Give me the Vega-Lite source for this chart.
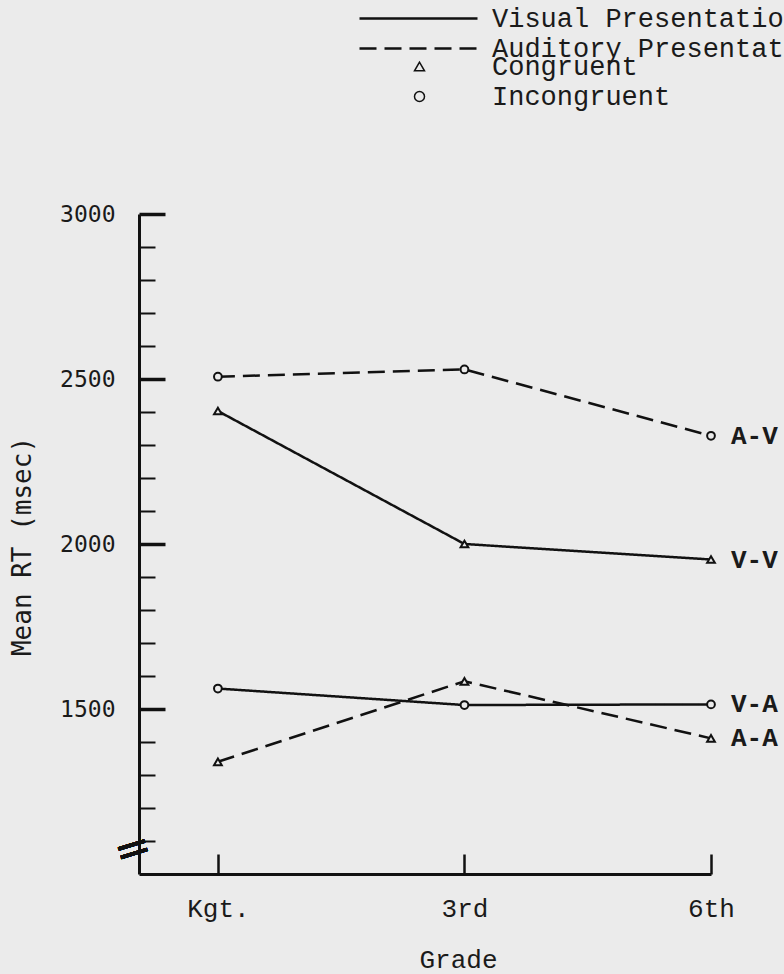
{
  "$schema": "https://vega.github.io/schema/vega-lite/v6.json",
  "width": 572,
  "height": 660,
  "autosize": {"type": "none"},
  "padding": {"left": 139, "top": 214, "right": 73, "bottom": 100},
  "background": "#ebebeb",
  "config": {"view": {"stroke": null}, "font": "Liberation Mono"},
  "data": {
    "values": [
      {"g": 0, "series": "A-V", "presentation": "Auditory Presentation", "congruence": "Incongruent", "rt": 2507},
      {"g": 1, "series": "A-V", "presentation": "Auditory Presentation", "congruence": "Incongruent", "rt": 2529},
      {"g": 2, "series": "A-V", "presentation": "Auditory Presentation", "congruence": "Incongruent", "rt": 2328},
      {"g": 0, "series": "V-V", "presentation": "Visual Presentation", "congruence": "Congruent", "rt": 2403},
      {"g": 1, "series": "V-V", "presentation": "Visual Presentation", "congruence": "Congruent", "rt": 2000},
      {"g": 2, "series": "V-V", "presentation": "Visual Presentation", "congruence": "Congruent", "rt": 1953},
      {"g": 0, "series": "V-A", "presentation": "Visual Presentation", "congruence": "Incongruent", "rt": 1562},
      {"g": 1, "series": "V-A", "presentation": "Visual Presentation", "congruence": "Incongruent", "rt": 1512},
      {"g": 2, "series": "V-A", "presentation": "Visual Presentation", "congruence": "Incongruent", "rt": 1514},
      {"g": 0, "series": "A-A", "presentation": "Auditory Presentation", "congruence": "Congruent", "rt": 1340},
      {"g": 1, "series": "A-A", "presentation": "Auditory Presentation", "congruence": "Congruent", "rt": 1584},
      {"g": 2, "series": "A-A", "presentation": "Auditory Presentation", "congruence": "Congruent", "rt": 1411}
    ]
  },
  "layer": [
    {
      "mark": {"type": "line", "color": "#111", "strokeWidth": 2.5},
      "encoding": {
        "x": {
          "field": "g", "type": "quantitative",
          "scale": {"domain": [-0.32, 2], "nice": false, "zero": false},
          "axis": {
            "orient": "bottom", "values": [0, 1, 2],
            "labelExpr": "['Kgt.','3rd','6th'][datum.value]",
            "ticks": false, "grid": false,
            "domain": true, "domainColor": "#111", "domainWidth": 3,
            "labelFont": "Liberation Mono", "labelFontSize": 26, "labelColor": "#1a1a1a",
            "labelPadding": 21, "labelFlush": false, "labelOverlap": false,
            "title": "Grade", "titleFont": "Liberation Mono", "titleFontSize": 26,
            "titleFontWeight": "normal", "titleColor": "#1a1a1a",
            "titleX": 319, "titleY": 85, "titleBaseline": "middle", "titleAlign": "center"
          }
        },
        "y": {
          "field": "rt", "type": "quantitative",
          "scale": {"domain": [1000, 3000], "nice": false, "zero": false},
          "axis": {
            "orient": "left", "values": [1500, 2000, 2500, 3000], "format": "d",
            "ticks": false, "grid": false,
            "domain": true, "domainColor": "#111", "domainWidth": 3,
            "labelFont": "DejaVu Sans Mono", "labelFontSize": 23, "labelColor": "#1a1a1a",
            "labelPadding": 24,
            "title": "Mean RT (msec)", "titleFont": "DejaVu Sans Mono", "titleFontSize": 26,
            "titleFontWeight": "normal", "titleColor": "#1a1a1a",
            "titleX": -117, "titleY": 332, "titleBaseline": "middle", "titleAngle": -90, "titleAlign": "center"
          }
        },
        "detail": {"field": "series"},
        "strokeDash": {
          "field": "presentation", "type": "nominal",
          "scale": {"domain": ["Visual Presentation", "Auditory Presentation"], "range": [[1, 0], [17, 8]]},
          "legend": {
            "orient": "none", "legendX": 266, "legendY": -209, "title": null,
            "symbolType": "M-14.75,0H14.75", "symbolSize": 64, "symbolStrokeWidth": 2.5, "symbolStrokeColor": "#111",
            "labelFont": "Liberation Mono", "labelFontSize": 27, "labelColor": "#1a1a1a",
            "labelLimit": 600, "labelOffset": 60, "padding": 0
          }
        }
      }
    },
    {
      "mark": {"type": "point", "filled": false, "fill": "#ebebeb", "stroke": "#111", "strokeWidth": 2, "opacity": 1},
      "encoding": {
        "x": {
          "field": "g", "type": "quantitative",
          "axis": {
            "orient": "bottom", "values": [0, 1, 2], "labels": false, "domain": false, "grid": false,
            "ticks": true, "tickSize": -20, "tickWidth": 2.5, "tickColor": "#111", "title": null
          }
        },
        "y": {
          "field": "rt", "type": "quantitative",
          "axis": {
            "orient": "left",
            "values": [1100, 1200, 1300, 1400, 1500, 1600, 1700, 1800, 1900, 2000, 2100, 2200, 2300, 2400, 2500, 2600, 2700, 2800, 2900, 3000],
            "labels": false, "domain": false, "grid": false, "ticks": true, "tickColor": "#111",
            "tickSize": {"condition": {"test": "datum.value % 500 === 0", "value": -26}, "value": -16},
            "tickWidth": {"condition": {"test": "datum.value % 500 === 0", "value": 3.5}, "value": 2},
            "title": null
          }
        },
        "shape": {
          "field": "congruence", "type": "nominal",
          "scale": {"domain": ["Congruent", "Incongruent"], "range": ["triangle-up", "circle"]},
          "legend": {
            "orient": "none", "legendX": 267, "legendY": -161, "title": null,
            "labelFont": "Liberation Mono", "labelFontSize": 27, "labelColor": "#1a1a1a",
            "labelLimit": 600, "labelOffset": 59
          }
        },
        "size": {"value": 60}
      }
    },
    {
      "transform": [{"filter": "datum.g === 2"}],
      "mark": {"type": "text", "align": "left", "baseline": "middle", "dx": 20, "font": "Liberation Mono", "fontSize": 26, "fontWeight": "bold", "color": "#1a1a1a"},
      "encoding": {
        "x": {"field": "g", "type": "quantitative", "axis": null},
        "y": {"field": "rt", "type": "quantitative", "axis": null},
        "text": {"field": "series"}
      }
    },
    {
      "mark": {"type": "text", "text": "=", "font": "DejaVu Sans", "fontSize": 44, "angle": -17, "align": "center", "baseline": "middle", "color": "#111"},
      "encoding": {
        "x": {"datum": -0.344, "type": "quantitative", "axis": null},
        "y": {"datum": 1073, "type": "quantitative", "axis": null}
      }
    }
  ],
  "resolve": {"axis": {"x": "independent", "y": "independent"}}
}
